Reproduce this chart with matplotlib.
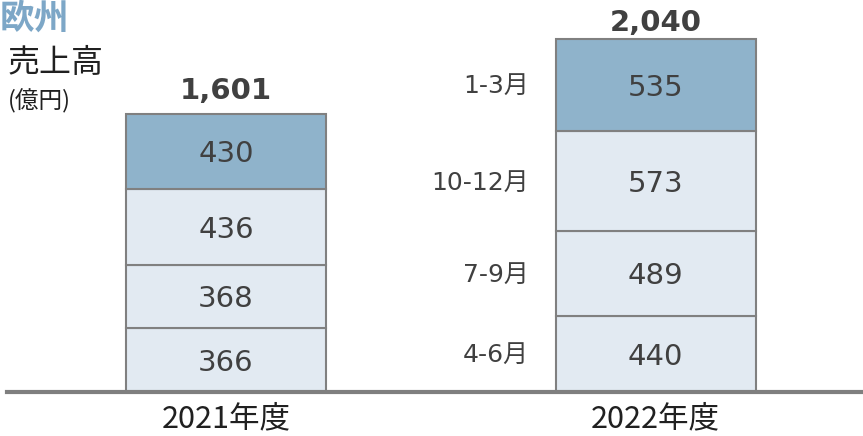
import matplotlib
matplotlib.use("Agg")
import matplotlib.pyplot as plt

plt.rcParams['font.family'] = ['Noto Sans CJK JP', 'DejaVu Sans']
NUM_FONT = ['DejaVu Sans', 'Noto Sans CJK JP']

years = ['2021年度', '2022年度']
quarter_labels = ['4-6月', '7-9月', '10-12月', '1-3月']
q_4_6 = [366, 440]
q_7_9 = [368, 489]
q_10_12 = [436, 573]
q_1_3 = [430, 535]
totals = [1601, 2040]
series = [q_4_6, q_7_9, q_10_12, q_1_3]

W, H = 863, 436
fig = plt.figure(figsize=(W / 100, H / 100), dpi=100)
base_px = 44
ax = fig.add_axes([7 / W, base_px / H, 1 - 7 / W, 1 - base_px / H])

px_per_unit = (392 - 38) / 2040.0
ax.set_ylim(0, (H - base_px) / px_per_unit)
sep = 429.5
ax.set_xlim((7 - 226) / sep, (863 - 226) / sep)
width = 200 / sep

light = '#e2eaf2'
dark = '#8fb3cb'
edge = '#808080'
colors = [light, light, light, dark]

x = [0, 1]
bottoms = [0, 0]
for i, vals in enumerate(series):
    ax.bar(x, vals, width=width, bottom=bottoms, color=colors[i],
           edgecolor=edge, linewidth=1.5, zorder=2)
    for j in range(2):
        ax.annotate(f'{vals[j]:,}', (x[j], bottoms[j] + vals[j] / 2),
                    xytext=(0, -2), textcoords='offset points', ha='center',
                    va='center', fontsize=21, color='#404040', zorder=3,
                    family=NUM_FONT)
        if j == 1:
            ax.annotate(quarter_labels[i], (x[j] - width / 2, bottoms[j] + vals[j] / 2),
                        xytext=(-19, -1), textcoords='offset points',
                        ha='right', va='center', fontsize=18,
                        color='#404040', family=NUM_FONT)
    bottoms = [bottoms[k] + vals[k] for k in range(2)]

offsets = [7, 1]
for j in range(2):
    ax.annotate(f'{totals[j]:,}', (x[j], bottoms[j]), xytext=(0, offsets[j]),
                textcoords='offset points', ha='center', va='bottom',
                fontsize=21, fontweight='bold', color='#404040',
                family=NUM_FONT)

ax.axhline(0, color='#7f7f7f', linewidth=3, zorder=4, clip_on=False)

for s in ax.spines.values():
    s.set_visible(False)
ax.set_yticks([])
ax.set_xticks(x)
ax.set_xticklabels(years, fontsize=22, color='#202020')
ax.tick_params(axis='x', length=0, pad=8)

fig.text(0 / W, 1 - 1 / H, '欧州', fontsize=25, fontweight='bold',
         color='#7da7c7', ha='left', va='top')
fig.text(8 / W, 1 - 72 / H, '売上高', fontsize=23, color='#202020',
         ha='left', va='baseline')
fig.text(8 / W, 1 - 108 / H, '(億円)', fontsize=17, color='#202020',
         ha='left', va='baseline')

fig.savefig('out.png', dpi=100)
